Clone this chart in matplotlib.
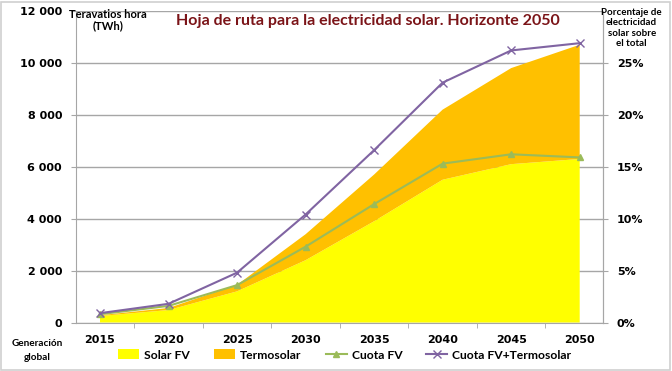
import matplotlib
matplotlib.use("Agg")
import matplotlib.pyplot as plt
from matplotlib.patches import Rectangle, Patch
from matplotlib.lines import Line2D
import numpy as np

years = ["2015", "2020", "2025", "2030", "2035", "2040", "2045", "2050"]
solar_fv = [250, 480, 1200, 2400, 3900, 5500, 6100, 6300]
termosolar = [30, 80, 250, 1000, 1800, 2700, 3700, 4400]
cuota_fv = [0.008, 0.016, 0.036, 0.073, 0.114, 0.153, 0.162, 0.159]
cuota_total = [0.009, 0.018, 0.048, 0.104, 0.166, 0.231, 0.262, 0.269]

left_ticks = [0, 2000, 4000, 6000, 8000, 10000, 12000]
left_labels = ["0", "2 000", "4 000", "6 000", "8 000", "10 000", "12 000"]
right_ticks = [0, 0.05, 0.10, 0.15, 0.20, 0.25]
right_labels = ["0%", "5%", "10%", "15%", "20%", "25%"]

YELLOW = "#FFFF00"
ORANGE = "#FFC000"
GREEN = "#9BBB59"
PURPLE = "#8064A2"
GRID = "#A6A6A6"
TICKFONT = dict(family="DejaVu Sans", weight="bold", size=8)
CAL = ["Lato", "DejaVu Sans"]

fig = plt.figure(figsize=(6.72, 3.71), dpi=100)
fig.patches.append(Rectangle((0.002, 0.003), 0.995, 0.992, transform=fig.transFigure,
                             fill=False, edgecolor="#D0D0D0", linewidth=1.2))

ax = fig.add_axes([0.1131, 0.1307, 0.7842, 0.8397])
x = np.arange(len(years))
ax.stackplot(x, solar_fv, termosolar, colors=[YELLOW, ORANGE], linewidth=0)
ax.set_xlim(-0.35, 7.34)
ax.set_ylim(0, 12000)
ax.set_yticks(left_ticks)
ax.set_yticklabels(left_labels, fontdict=TICKFONT)
ax.set_xticks(x)
ax.set_xticklabels(years, fontdict=TICKFONT)
ax.set_xticks(np.arange(0.5, 7, 1), minor=True)
ax.tick_params(axis="x", which="major", length=0, pad=9)
ax.tick_params(axis="x", which="minor", length=3.6, color=GRID)
ax.tick_params(axis="y", length=3.6, color=GRID, pad=6.4)
ax.set_axisbelow(True)
ax.yaxis.grid(True, color=GRID, linewidth=1)
ax.spines["top"].set_visible(False)
for s in ["left", "right", "bottom"]:
    ax.spines[s].set_color(GRID)
ax.set_facecolor("none")

ax2 = ax.twinx()
ax2.plot(x, cuota_fv, color=GREEN, marker="^", markersize=5, linewidth=1.5)
ax2.plot(x, cuota_total, color=PURPLE, marker="x", markersize=6, linewidth=1.5)
ax2.set_ylim(0, 0.30)
ax2.set_yticks(right_ticks)
ax2.set_yticklabels(right_labels, fontdict=TICKFONT)
ax2.tick_params(axis="y", length=3.6, color=GRID, pad=6.4)
for s in ["top", "left", "bottom"]:
    ax2.spines[s].set_visible(False)
ax2.spines["right"].set_color(GRID)

fig.text(0.548, 0.943, "Hoja de ruta para la electricidad solar. Horizonte 2050",
         ha="center", va="center", color="#7B1418", fontsize=11.5, weight="bold", family=CAL)
fig.text(0.161, 0.946, "Teravatios hora\n(TWh)", ha="center", va="center",
         fontsize=8, weight="bold", family=CAL, linespacing=1.1)
fig.text(0.94, 0.925, "Porcentaje de\nelectricidad\nsolar sobre\nel total", ha="center", va="center",
         fontsize=7, weight="bold", family=CAL, linespacing=1.2)
fig.text(0.056, 0.055, "Generación\nglobal", ha="center", va="center",
         fontsize=7.2, weight="bold", family=CAL, linespacing=1.7)

handles = [Patch(facecolor=YELLOW, edgecolor="none"),
           Patch(facecolor=ORANGE, edgecolor="none"),
           Line2D([], [], color=GREEN, marker="^", markersize=5, linewidth=1.5),
           Line2D([], [], color=PURPLE, marker="x", markersize=6, linewidth=1.5)]
labels = ["Solar FV", "Termosolar", "Cuota FV", "Cuota FV+Termosolar"]
fig.legend(handles, labels, loc="center", bbox_to_anchor=(0.513, 0.043), ncol=4, frameon=False,
           prop=dict(family=CAL, weight="bold", size=8.7), handlelength=1.75, handleheight=0.9,
           columnspacing=2.0, handletextpad=0.4, borderpad=0)

fig.savefig("out.png", dpi=100)
